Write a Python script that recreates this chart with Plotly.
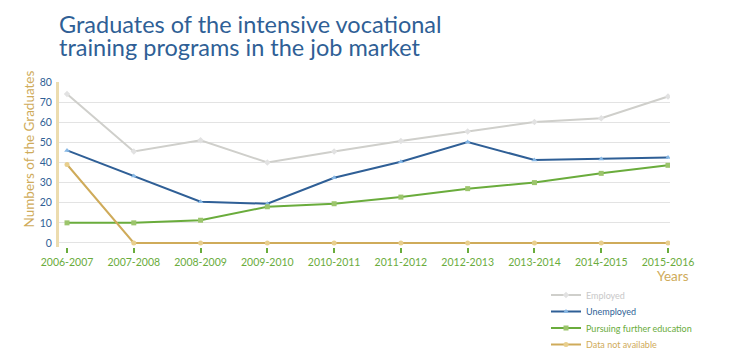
import plotly.graph_objects as go

years = ["2006-2007", "2007-2008", "2008-2009", "2009-2010", "2010-2011",
         "2011-2012", "2012-2013", "2013-2014", "2014-2015", "2015-2016"]
employed = [74, 45.5, 51, 40, 45.5, 50.7, 55.4, 60.1, 62, 72.8]
unemployed = [46, 33.3, 20.5, 19.5, 32.4, 40.4, 50.2, 41.2, 41.7, 42.5]
further_edu = [10, 10, 11.3, 18, 19.5, 22.8, 27, 30, 34.6, 38.6]
not_available = [39, 0, 0, 0, 0, 0, 0, 0, 0, 0]
y_ticks = [0, 10, 20, 30, 40, 50, 60, 70, 80]

FONT = "Lato"
BLUE = "#2f5f96"
GREEN = "#6aac3c"
GOLD = "#cfab5a"
GRAY = "#cfcfcb"

OFF = 8  # page body margin offset
W, H = 735 - OFF, 360 - OFF
PL, PR, PT, PB = 59 - OFF, 670 - OFF, 82 - OFF, 247 - OFF
PW, PH = PR - PL, PB - PT

def py(pix):
    return (PB - (pix - OFF)) / PH

def px(pix):
    return ((pix - OFF) - PL) / PW

series = [
    ("Employed", employed, GRAY, "#e2e2e2", "diamond", "#c8c8c8", "legend", 295),
    ("Unemployed", unemployed, BLUE, "#86b8e6", "triangle-up", BLUE, "legend2", 311.5),
    ("Pursuing further education", further_edu, GREEN, "#9cc56c", "square", GREEN, "legend3", 328),
    ("Data not available", not_available, GOLD, "#e8cf8e", "circle", GOLD, "legend4", 344.5),
]

fig = go.Figure()
legends = {}
for name, vals, lc, mc, sym, tc, lg, ly in series:
    fig.add_trace(go.Scatter(
        x=years, y=vals, mode="lines+markers", name=name, legend=lg,
        line=dict(color=lc, width=2),
        marker=dict(color=mc, size=5, symbol=sym),
    ))
    legends[lg] = dict(
        x=px(546), xanchor="left", y=py(ly), yanchor="middle",
        font=dict(size=9, color=tc, family=FONT),
        bgcolor="rgba(0,0,0,0)",
    )

fig.update_layout(
    width=W, height=H,
    margin=dict(l=PL, r=W - PR, t=PT, b=H - PB, autoexpand=False),
    paper_bgcolor="white", plot_bgcolor="white",
    font=dict(family=FONT),
    showlegend=True,
    xaxis=dict(
        type="category", range=[-0.12, 9.03], automargin=False,
        showgrid=False, zeroline=False, showline=False,
        ticks="outside", ticklen=5, tickwidth=2, tickcolor=GREEN,
        tickfont=dict(size=10.5, color=GREEN, family=FONT),
    ),
    yaxis=dict(
        range=[-2, 80], tickvals=y_ticks, automargin=False,
        showgrid=True, gridcolor="#e3e3e3", gridwidth=1,
        zeroline=False,
        showline=True, linecolor="#ecdcaf", linewidth=3,
        ticks="", tickfont=dict(size=10.5, color=BLUE, family=FONT),
        ticklabelstandoff=2,
    ),
    annotations=[
        dict(
            text="Years", xref="paper", yref="paper",
            x=px(691), xanchor="right", y=py(275.5), yanchor="middle",
            showarrow=False, font=dict(size=13.5, color=GOLD, family=FONT),
        ),
        dict(
            text="Numbers of the Graduates", xref="paper", yref="paper",
            x=px(28.5), xanchor="center", y=py(149), yanchor="middle",
            textangle=-90, showarrow=False,
            font=dict(size=13.5, color=GOLD, family=FONT),
        ),
        dict(
            text="Graduates of the intensive vocational",
            xref="paper", yref="paper", x=px(57), xanchor="left",
            y=py(24), yanchor="middle", align="left", showarrow=False,
            font=dict(size=23.5, color=BLUE, family=FONT),
        ),
        dict(
            text="training programs in the job market",
            xref="paper", yref="paper", x=px(57), xanchor="left",
            y=py(46.5), yanchor="middle", align="left", showarrow=False,
            font=dict(size=23.5, color=BLUE, family=FONT),
        ),
    ],
    **legends,
)

fig.write_html("out.html")
